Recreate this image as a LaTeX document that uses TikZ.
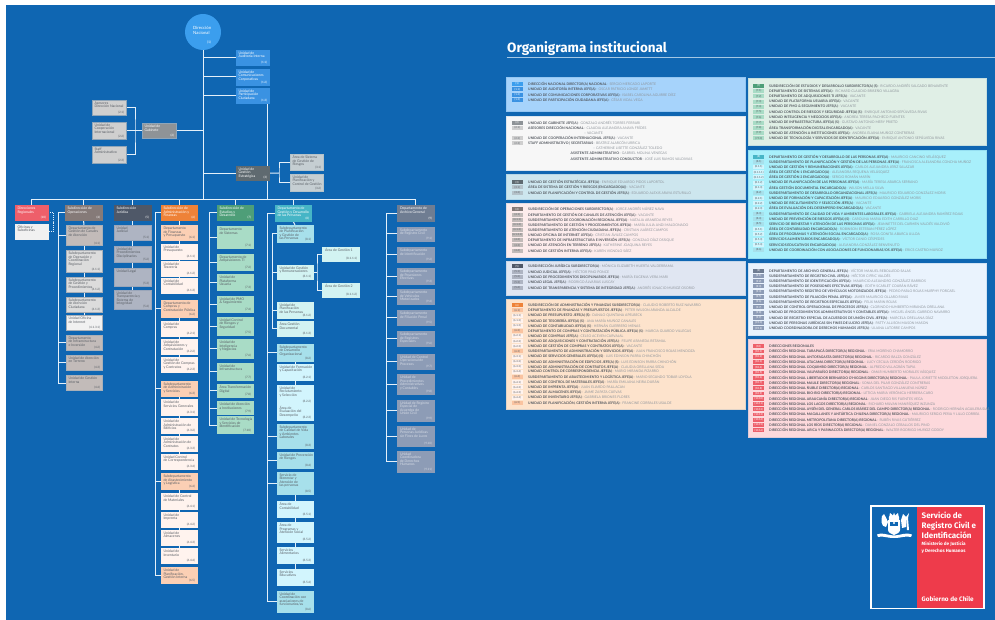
\documentclass[tikz,border=0pt]{standalone}
\usepackage{fontspec}
\setmainfont{Lato}
\newfontfamily\titlefont{Fira Sans}
\usetikzlibrary{calc}
\pgfdeclarelayer{bg}
\pgfsetlayers{bg,main}
\definecolor{bgblue}{HTML}{0F66B2}
\definecolor{linew}{HTML}{E4F0FA}
\definecolor{txtd}{HTML}{5A5F66}
\definecolor{rowb}{HTML}{52575E}
\definecolor{rown}{HTML}{8E949B}
\definecolor{cRed}{HTML}{EE3B4B}
\definecolor{P1col}{HTML}{A6D3FB}
\definecolor{P2col}{HTML}{F7F7F7}
\definecolor{P3col}{HTML}{CDE6EE}
\definecolor{P4col}{HTML}{FDECEC}
\definecolor{P5col}{HTML}{E0E6F2}
\definecolor{P6col}{HTML}{FDE3CC}
\definecolor{P7col}{HTML}{E0EFE6}
\definecolor{P8col}{HTML}{A8F0FB}
\definecolor{P9col}{HTML}{EAF3FD}
\definecolor{P10col}{HTML}{FDD9DC}
\newcounter{rc}
\tikzset{
 conn/.style={draw=linew,line width=1pt},
 ubox/.style={rectangle,outer sep=0pt,inner xsep=2.5pt,inner ysep=1.5pt,line width=.6pt,font=\fontsize{3.5}{3.5}\selectfont,align=left},
 ucode/.style={fill=none,draw=none,inner xsep=2pt,inner ysep=1.2pt,font=\fontsize{3}{3}\selectfont},
 uwhite/.style={ubox,text=white},
 sNac/.style={ubox,fill=c1,draw=c1,text=white},
 sUni/.style={ubox,fill=c1b,draw=c1b,text=white},
 sGab/.style={ubox,fill=c2,draw=c2d,text=white},
 sAse/.style={ubox,fill=c2b,draw=c2d,text=txtd},
 sGes/.style={ubox,fill=c3,draw=c3,text=white},
 sAre/.style={ubox,fill=c3b,draw=c3d,text=txtd},
 sDir/.style={ubox,fill=c10,draw=c10,text=white},
 sOfi/.style={ubox,fill=cOf,draw=cOf,text=rowb},
 sOp/.style={ubox,fill=c4,draw=c4,text=white},
 sOpa/.style={ubox,fill=c4b,draw=c4c,text=txtd},
 sOpb/.style={ubox,fill=c4l,draw=c4c,text=txtd},
 sOpc/.style={ubox,fill=cOf,draw=c4c,text=txtd},
 sJu/.style={ubox,fill=c5,draw=c5,text=white},
 sJua/.style={ubox,fill=c5b,draw=c5c,text=txtd},
 sAd/.style={ubox,fill=c6,draw=c6,text=white},
 sAda/.style={ubox,fill=c6b,draw=c6b,text=txtd},
 sAdb/.style={ubox,fill=c6l,draw=c6l,text=txtd},
 sEs/.style={ubox,fill=c7,draw=c7,text=white},
 sEsa/.style={ubox,fill=c7b,draw=c7b,text=txtd},
 sPe/.style={ubox,fill=c8,draw=c8,text=white},
 sPea/.style={ubox,fill=c8b,draw=c8b,text=txtd},
 sPeb/.style={ubox,fill=c8l,draw=c8l,text=txtd},
 sPec/.style={ubox,fill=c8m,draw=c8m,text=txtd},
 sAr/.style={ubox,fill=c9,draw=c9,text=white},
 sAra/.style={ubox,fill=c9b,draw=c9b,text=c9t},
 panel/.style={rectangle,outer sep=0pt,inner sep=0pt,line width=.6pt,anchor=north west},
 rowt/.style={anchor=west,inner sep=0pt,font=\fontsize{3.45}{3.7}\selectfont},
 cell/.style={inner sep=0pt,minimum width=11pt,minimum height=3.9pt,font=\fontsize{2.7}{3}\selectfont,anchor=west},
 k1a/.style={cell,fill=c1,text=white},k1/.style={cell,fill=c1b,text=white},
 k2a/.style={cell,fill=c2,text=white},k2/.style={cell,fill=c2b,text=txtd},
 k3a/.style={cell,fill=c3,text=white},k3/.style={cell,fill=c3d,text=txtd},
 k4a/.style={cell,fill=c4,text=white},k4/.style={cell,fill=c4b,text=txtd},
 k5a/.style={cell,fill=c5,text=white},k5/.style={cell,fill=c5b,text=txtd},
 k6a/.style={cell,fill=c6,text=white},k6b/.style={cell,fill=c6c,text=txtd},k6/.style={cell,fill=c6l,text=txtd},
 k7a/.style={cell,fill=c7,text=white},k7/.style={cell,fill=c7b,text=txtd},
 k8a/.style={cell,fill=c8,text=white},k8b/.style={cell,fill=c8b,text=txtd},k8/.style={cell,fill=c8m,text=txtd},
 k9a/.style={cell,fill=c9,text=white},k9/.style={cell,fill=c9b,text=white},
 k10/.style={cell,fill=c10,text=white},
}
\definecolor{c1}{HTML}{3B9EEE}\definecolor{c1b}{HTML}{3A92E2}
\definecolor{c2}{HTML}{8E9397}\definecolor{c2b}{HTML}{CFCFCF}\definecolor{c2d}{HTML}{8FA5B8}
\definecolor{c3}{HTML}{5F6A70}\definecolor{c3b}{HTML}{C5CED2}\definecolor{c3d}{HTML}{B5C3CA}
\definecolor{c4}{HTML}{857A78}\definecolor{c4b}{HTML}{C2BBB9}\definecolor{c4l}{HTML}{DCDCDC}\definecolor{c4c}{HTML}{A9B0B8}
\definecolor{c5}{HTML}{4F5868}\definecolor{c5b}{HTML}{AEB4C2}\definecolor{c5c}{HTML}{9AA6BA}
\definecolor{c6}{HTML}{EE8238}\definecolor{c6b}{HTML}{FBCFB4}\definecolor{c6c}{HTML}{FAC3A0}\definecolor{c6l}{HTML}{FFF3EE}
\definecolor{c7}{HTML}{4E9E78}\definecolor{c7b}{HTML}{A9DCC6}
\definecolor{c8}{HTML}{46B5C6}\definecolor{c8b}{HTML}{A7E0EB}\definecolor{c8l}{HTML}{D2F3F2}\definecolor{c8m}{HTML}{D2F5FD}
\definecolor{c9}{HTML}{6F7D92}\definecolor{c9b}{HTML}{8D9CB6}\definecolor{c9t}{HTML}{D5DBE5}
\definecolor{c10}{HTML}{EE5F6A}\definecolor{cOf}{HTML}{F1F1F1}
\newcommand{\ub}[8]{%
 \pgfmathsetmacro\bw{#5-#3-5}\pgfmathsetmacro\bh{#6-#4-3}%
 \node[#2,anchor=north west] (#1) at (#3,#4) {\parbox[c][\bh pt][t]{\bw pt}{\leavevmode\rlap{\parbox[t]{60pt}{\raggedright #7}}}};%
 \node[#2,ucode,anchor=south east] (#1c) at (#1.south east) {#8};%
}
\newcommand{\rwL}[5]{\stepcounter{rc}\node[#1] (kc\therc) at (511.5,#2) {#3};\node[rowt] (kt\therc) at (528,#2) {\textcolor{rowb}{\bfseries #4}\textcolor{rown}{ – #5}};}
\newcommand{\rwR}[5]{\stepcounter{rc}\node[#1] (kc\therc) at (753,#2) {#3};\node[rowt] (kt\therc) at (769,#2) {\textcolor{rowb}{\bfseries #4}\textcolor{rown}{ – #5}};}
\newcommand{\rwX}[4]{\stepcounter{rc}\node[rowt] (kt\therc) at (#1,#2) {\textcolor{rowb}{\bfseries #3}\textcolor{rown}{ – #4}};}
\newcommand{\pnl}[6]{\pgfmathsetmacro\bw{#4-#2}\pgfmathsetmacro\bh{#5-#3}\node[panel,fill=#6,draw=#6!88!bgblue,minimum width=\bw pt,minimum height=\bh pt] (#1) at (#2,#3) {};}
\begin{document}
\begin{tikzpicture}[x=1pt,y=-1pt]
\useasboundingbox (0,0) rectangle (995,620);
\begin{pgfonlayer}{bg}
\fill[white] (0,0) rectangle (995,620);
\fill[bgblue] (6,5) rectangle (995,620);
\end{pgfonlayer}
% ---------- top
\node[circle,fill=c1,minimum size=36pt,inner sep=0pt] (dn) at (203,32) {};
\node[anchor=north west,inner sep=0pt,text=white,font=\fontsize{4.3}{4.4}\selectfont,align=left] (dnt) at (193,26.5) {Dirección\\Nacional};
\node[anchor=base,inner sep=0pt,text=white,font=\fontsize{3.4}{4}\selectfont] (dnc) at (209,44) {(1)};
\ub{au}{sUni}{236}{50}{269}{65.5}{Unidad de\\Auditoría Interna}{(1.1)}
\ub{cm}{sUni}{236}{69}{269}{85}{Unidad de\\Comunicaciones\\Corporativas}{(1.2)}
\ub{pa}{sUni}{236}{88}{269}{103.5}{Unidad de\\Participación\\Ciudadana}{(1.3)}
\ub{gab}{sGab}{142}{123.5}{176}{138}{Unidad de\\Gabinete}{(2)}
\ub{as}{sAse}{92}{100}{126}{115}{Asesores\\Dirección Nacional}{(2.1)}
\ub{co}{sAse}{92}{122}{126}{139.5}{Unidad de\\Cooperación\\Internacional}{(2.2)}
\ub{st}{sAse}{92}{146}{126}{163}{Staff\\Administrativo}{(2.3)}
\ub{ge}{sGes}{236}{166}{269}{180.5}{Unidad de\\Gestión\\Estratégica}{(3)}
\ub{ar1}{sAre}{290}{154}{323}{170.5}{Área de Sistema\\de Gestión de\\Riesgos}{(3.1)}
\ub{ar2}{sAre}{290}{174}{323}{191.5}{Unidad de\\Planificación y\\Control de Gestión}{(3.2)}
% ---------- column regional
\ub{dr}{sDir}{15}{205.5}{48}{220}{Direcciones\\Regionales}{(10)}
\ub{of}{sOfi}{15}{224}{48}{239}{Oficinas y\\Suboficinas}{}
% ---------- operaciones
\ub{so}{sOp}{65}{205.5}{102}{220}{Subdirección de\\Operaciones}{(4)}
\ub{dg}{sOpa}{66}{225}{102}{245.7}{Departamento de\\Gestión de Canales\\de Atención}{(4.1)}
\ub{s1}{sOpb}{66}{250.5}{102}{272.5}{Subdepartamento\\de Operación y\\Coordinación\\Regional}{(4.1.1)}
\ub{s2}{sOpb}{66}{277}{102}{292}{Subdepartamento\\de Gestión y\\Procedimientos}{(4.1.2)}
\ub{s3}{sOpb}{66}{297}{102}{312}{Subdepartamento\\de Atención\\Ciudadana}{(4.1.3)}
\ub{ofi}{sOpc}{66}{315.5}{102}{330.5}{Unidad Oficina\\de Internet}{(4.1.3.1)}
\ub{inf}{sOpa}{66}{335}{102}{350}{Departamento\\de Infraestructura\\e Inversión}{(4.2)}
\ub{ter}{sOpa}{66}{355}{102}{370.5}{Unidad de Atención\\en Terreno}{(4.3)}
\ub{gi}{sOpa}{66}{375.5}{102}{390.5}{Unidad de Gestión\\Interna}{(4.4)}
% ---------- juridica
\ub{sj}{sJu}{114}{205.5}{151}{220}{Subdirección\\Jurídica}{(5)}
\ub{j1}{sJua}{114}{225}{151}{240}{Unidad\\Judicial}{(5.1)}
\ub{j2}{sJua}{114}{246}{151}{262}{Unidad de\\Procedimientos\\Disciplinarios}{(5.2)}
\ub{j3}{sJua}{114}{268}{151}{286}{Unidad Legal}{(5.3)}
\ub{j4}{sJua}{114}{290}{151}{309}{Unidad de\\Transparencia y\\Sistema de\\Integridad}{(5.4)}
% ---------- administracion
\ub{sa}{sAd}{161}{205.5}{197}{220}{Subdirección de\\Administración y\\Finanzas}{(6)}
\ub{a1}{sAda}{161}{225.5}{197}{240.5}{Departamento\\de Finanzas\\y Presupuesto}{(6.1)}
\ub{a11}{sAdb}{161}{244}{197}{259}{Unidad de\\Presupuesto}{(6.1.1)}
\ub{a12}{sAdb}{161}{261}{197}{276}{Unidad de\\Tesorería}{(6.1.2)}
\ub{a13}{sAdb}{161}{278}{197}{293}{Unidad de\\Contabilidad}{(6.1.3)}
\ub{a2}{sAda}{161}{300}{197}{317}{Departamento de\\Compras y\\Contratación Pública}{(6.2)}
\ub{a21}{sAdb}{161}{321}{197}{336}{Unidad de\\Compras}{(6.2.1)}
\ub{a22}{sAdb}{161}{339}{197}{354}{Unidad de\\Adquisiciones y\\Contratación}{(6.2.2)}
\ub{a23}{sAdb}{161}{357}{197}{372.5}{Unidad de\\Gestión de Compras\\y Contratos}{(6.2.3)}
\ub{a3}{sAda}{161}{381}{197}{396}{Subdepartamento\\de Administración\\y Servicios}{(6.3)}
\ub{a31}{sAdb}{161}{399.5}{197}{415}{Unidad de\\Servicios Generales}{(6.3.1)}
\ub{a32}{sAdb}{161}{418.5}{197}{433.5}{Unidad de\\Administración de\\Edificios}{(6.3.2)}
\ub{a33}{sAdb}{161}{436}{197}{451}{Unidad de\\Administración de\\Contratos}{(6.3.3)}
\ub{a34}{sAdb}{161}{454}{197}{469}{Unidad Control\\de Correspondencia}{(6.3.4)}
\ub{a4}{sAda}{161}{473.5}{197}{489}{Subdepartamento\\de Abastecimiento\\y Logística}{(6.4)}
\ub{a41}{sAdb}{161}{493.5}{197}{509}{Unidad de Control\\de Materiales}{(6.4.1)}
\ub{a42}{sAdb}{161}{512}{197}{527}{Unidad de\\Imprenta}{(6.4.2)}
\ub{a43}{sAdb}{161}{530}{197}{545}{Unidad de\\Almacenes}{(6.4.3)}
\ub{a44}{sAdb}{161}{548.5}{197}{563.5}{Unidad de\\Inventario}{(6.4.4)}
\ub{a5}{sAda}{161}{567.5}{197}{583}{Unidad de\\Planificación,\\Gestión Interna}{(6.5)}
% ---------- estudios
\ub{se}{sEs}{217}{205.5}{253}{220}{Subdirección de\\Estudios y\\Desarrollo}{(7)}
\ub{e1}{sEsa}{217}{226.5}{253}{248}{Departamento\\de Sistemas}{(7.1)}
\ub{e2}{sEsa}{217}{254}{253}{270}{Departamento de\\Adquisiciones TI}{(7.2)}
\ub{e3}{sEsa}{217}{274.5}{253}{290}{Unidad de\\Plataforma\\Usuaria}{(7.3)}
\ub{e4}{sEsa}{217}{296}{253}{312}{Unidad de PMO\\\& Seguimiento}{(7.4)}
\ub{e5}{sEsa}{217}{317}{253}{335}{Unidad Control\\de Riesgos y\\Seguridad}{(7.5)}
\ub{e6}{sEsa}{217}{339.5}{253}{358}{Unidad de\\Inteligencia\\y Negocios}{(7.6)}
\ub{e7}{sEsa}{217}{363}{253}{380}{Unidad de\\Infraestructura}{(7.7)}
\ub{e8}{sEsa}{217}{384}{253}{397}{Área Transformación\\Digital}{(7.8)}
\ub{e9}{sEsa}{217}{401.5}{253}{414.5}{Unidad de Atención\\a Instituciones}{(7.9)}
\ub{e10}{sEsa}{217}{416.7}{253}{433.3}{Unidad de Tecnología\\y Servicios de\\Identificación}{(7.10)}
% ---------- personas
\ub{sp}{sPe}{275}{205.5}{311}{221}{Departamento de\\Gestión y Desarrollo\\de las Personas}{(8)}
\ub{p1}{sPea}{277}{225}{313}{242.5}{Subdepartamento\\de Planificación\\y Gestión de\\las Personas}{(8.1)}
\ub{p11}{sPeb}{277}{265}{313}{279}{Unidad de Gestión\\y Remuneraciones}{(8.1.1)}
\ub{p12}{sPeb}{277}{302}{313}{318}{Unidad de\\Planificación\\de las Personas}{(8.1.2)}
\ub{p13}{sPeb}{277}{321}{313}{336}{Área Gestión\\Documental}{(8.1.3)}
\ub{g1}{sPeb}{322.5}{247}{359}{261.5}{Área de Gestión 1}{(8.1.1.1)}
\ub{g2}{sPeb}{322.5}{283}{359}{297}{Área de Gestión 2}{(8.1.1.2)}
\ub{p2}{sPea}{277}{344}{313}{361}{Subdepartamento\\de Desarrollo\\Organizacional}{(8.2)}
\ub{p21}{sPec}{277}{364}{313}{380}{Unidad de Formación\\y Capacitación}{(8.2.1)}
\ub{p22}{sPec}{277}{385}{313}{404}{Unidad de\\Reclutamiento\\y Selección}{(8.2.2)}
\ub{p23}{sPec}{277}{404.5}{313}{420}{Área de\\Evaluación del\\Desempeño}{(8.2.3)}
\ub{p3}{sPea}{277}{424}{313}{448}{Subdepartamento\\de Calidad de Vida\\y Ambientes\\Laborales}{(8.3)}
\ub{p4}{sPea}{277}{452}{313}{468.5}{Unidad de Prevención\\de Riesgos}{(8.4)}
\ub{p5}{sPea}{277}{472}{313}{494.5}{Servicio de\\Bienestar y\\Atención de\\las personas}{(8.5)}
\ub{p51}{sPec}{277}{501}{313}{517}{Área de\\Contabilidad}{(8.5.1)}
\ub{p52}{sPec}{277}{522}{313}{542}{Área de\\Programas y\\Atención Social}{(8.5.2)}
\ub{p53}{sPec}{277}{547}{313}{563}{Servicios\\Alimentarios}{(8.5.3)}
\ub{p54}{sPec}{277}{569}{313}{585}{Servicios\\Educativos}{(8.5.4)}
\ub{p6}{sPea}{277}{591}{313}{612.5}{Unidad de\\Coordinación con\\asociaciones de\\funcionarios/as}{(8.6)}
% ---------- archivo
\ub{ra}{sAr}{397.5}{205.5}{434}{221}{Departamento de\\Archivo General}{(9)}
\ub{r1}{sAra}{397.5}{227}{434}{241}{Subdepartamento\\de Registro Civil}{(9.1)}
\ub{r2}{sAra}{397.5}{247.5}{434}{262}{Subdepartamento\\de Identificación}{(9.2)}
\ub{r3}{sAra}{397.5}{268.5}{434}{284}{Subdepartamento\\de Posesiones\\Efectivas}{(9.3)}
\ub{r4}{sAra}{397.5}{289.5}{434}{304}{Subdepartamento\\de Vehículos\\Motorizados}{(9.4)}
\ub{r5}{sAra}{397.5}{310.5}{434}{325}{Subdepartamento\\de Filiación Penal}{(9.5)}
\ub{r6}{sAra}{397.5}{331.5}{434}{346}{Subdepartamento\\de Registros\\Especiales}{(9.6)}
\ub{r7}{sAra}{397.5}{354}{434}{369}{Unidad de Control\\Operacional de\\Procesos}{(9.7)}
\ub{r8}{sAra}{397.5}{374.5}{434}{394}{Unidad de\\Procedimientos\\Administrativos\\y Contables}{(9.8)}
\ub{r9}{sAra}{397.5}{400}{434}{421}{Unidad de Registro\\Especial de\\Acuerdos de\\Unión Civil}{(9.9)}
\ub{r10}{sAra}{397.5}{426}{434}{446.5}{Unidad de\\Personas Jurídicas\\sin Fines de Lucro}{(9.10)}
\ub{r11}{sAra}{397.5}{451}{434}{472.5}{Unidad\\Coordinadora\\de Derechos\\Humanos}{(9.11)}
% ---------- title
\node[anchor=base west,inner sep=0pt,text=white,font=\titlefont\bfseries\fontsize{13.5}{14}\selectfont] (title) at (507,52.5) {Organigrama institucional};
\coordinate (ruleA) at (507,57.5);
\coordinate (ruleB) at (995,57.5);
\draw[draw=linew!70!bgblue,line width=.5pt] (ruleA) -- (ruleB);
% ---------- panels
\pnl{P1}{506}{77.5}{745}{111.7}{P1col}
\pnl{P2}{506}{116}{745}{170}{P2col}
\pnl{P3}{506}{174.7}{745}{199}{P3col}
\pnl{P4}{506}{203}{745}{257}{P4col}
\pnl{P5}{506}{261.5}{745}{295.5}{P5col}
\pnl{P6}{506}{299.3}{745}{409.3}{P6col}
\pnl{P7}{748}{78.3}{986}{145.7}{P7col}
\pnl{P8}{748}{150}{986}{258}{P8col}
\pnl{P9}{748}{263.3}{986}{335}{P9col}
\pnl{P10}{748}{339.7}{986}{437.3}{P10col}
\rwL{k1a}{84}{(1)}{DIRECCIÓN NACIONAL DIRECTOR(A) NACIONAL}{SERGIO MERCADO LAPORTE}
\rwL{k1}{89.3}{(1.1)}{UNIDAD DE AUDITORÍA INTERNA JEFE(A)}{OSCAR PATRICIO LONGE JAMETT}
\rwL{k1}{94.7}{(1.2)}{UNIDAD DE COMUNICACIONES CORPORATIVAS JEFE(A)}{ISABEL CAROLINA AGUIRRE DÍEZ}
\rwL{k1}{100}{(1.3)}{UNIDAD DE PARTICIPACIÓN CIUDADANA JEFE(A)}{CÉSAR VIDAL VEGA}
\rwL{k2a}{122.7}{(2)}{UNIDAD DE GABINETE JEFE(A)}{GONZALO ANDRÉS TORRES FERRARI}
\rwL{k2}{128}{(2.1)}{ASESORES DIRECCIÓN NACIONAL}{CLAUDIA ALEJANDRA ANAYA FRÍDES}
\node[rowt,text=rown] (vac) at (584,133.3) {– VACANTE};
\rwL{k2}{138.3}{(2.2)}{UNIDAD DE COOPERACIÓN INTERNACIONAL JEFE(A)}{VACANTE}
\rwL{k2}{143.3}{(2.3)}{STAFF ADMINISTRATIVO | SECRETARIAS}{BEATRIZ ALARCÓN URRICA}
\node[rowt,text=rown] (cat) at (593,148.3) {– CATHERINE LISETTE GONZÁLEZ TOLEDO};
\rwX{570.5}{153.3}{ASISTENTE ADMINISTRATIVO}{GABRIEL MOLINA VENEGAS}
\rwX{570.5}{158.7}{ASISTENTE ADMINISTRATIVO CONDUCTOR}{JOSÉ LUIS RAMOS VALDIVIAS}
\rwL{k3a}{182.3}{(3)}{UNIDAD DE GESTIÓN ESTRATÉGICA JEFE(A)}{ENRIQUE EDUARDO PIDOS LAPORTOL}
\rwL{k3}{187.3}{(3.1)}{ÁREA DE SISTEMA DE GESTIÓN Y RIESGOS (ENCARGADO(A))}{VACANTE}
\rwL{k3}{192.7}{(3.2)}{UNIDAD DE PLANIFICACIÓN Y CONTROL DE GESTIÓN JEFE(A)}{EDUARDO ALEXIS ARAYA ESTURILLO}
\rwL{k4a}{209.3}{(4)}{SUBDIRECCIÓN DE OPERACIONES SUBDIRECTOR(A)}{JORGE ANDRÉS NÚÑEZ NAVA}
\rwL{k4}{214.7}{(4.1)}{DEPARTAMENTO DE GESTIÓN DE CANALES DE ATENCIÓN JEFE(A)}{VACANTE}
\rwL{k4}{219.7}{(4.1.1)}{SUBDEPARTAMENTO DE COORDINACIÓN REGIONAL JEFE(A)}{NATALIA ARANEDA REYES}
\rwL{k4}{224.7}{(4.1.2)}{SUBDEPARTAMENTO DE GESTIÓN Y PROCEDIMIENTOS JEFE(A)}{MARÍA JULIA ANDI MALDONADO}
\rwL{k4}{229.7}{(4.1.3)}{SUBDEPARTAMENTO DE ATENCIÓN CIUDADANA JEFE(A)}{CRISTIAN JUÁREZ CAMPOS}
\rwL{k4}{235}{(4.1.3.1)}{UNIDAD OFICINA DE INTERNET JEFE(A)}{CRISTIAN ÁVILEZ CAMPOS}
\rwL{k4}{240}{(4.2)}{DEPARTAMENTO DE INFRAESTRUCTURA E INVERSIÓN JEFE(A)}{GONZALO DÍAZ OSSIQUE}
\rwL{k4}{245.3}{(4.3)}{UNIDAD DE ATENCIÓN EN TERRENO JEFE(A)}{KATHERINE JOAQUINA REYES}
\rwL{k4}{251}{(4.4)}{UNIDAD DE GESTIÓN INTERNA JEFE(A)}{KAREN VIGNOLO SÁEZ}
\rwL{k5a}{266.3}{(5)}{SUBDIRECCIÓN JURÍDICA SUBDIRECTOR(A)}{MÓNICA ELIZABETH HUERTA VALDERRAMA}
\rwL{k5}{271.7}{(5.1)}{UNIDAD JUDICIAL JEFE(A)}{HÉCTOR PINO PONCE}
\rwL{k5}{277}{(5.2)}{UNIDAD DE PROCEDIMIENTOS DISCIPLINARIOS JEFE(A)}{MARÍA EUGENIA VERA MARI}
\rwL{k5}{282.3}{(5.3)}{UNIDAD LEGAL JEFE(A)}{RODRIGO ÁLVARIAS LUSCAY}
\rwL{k5}{287.7}{(5.4)}{UNIDAD DE TRANSPARENCIA Y SISTEMA DE INTEGRIDAD JEFE(A)}{ANDRÉS IGNACIO MUÑOZ OSORIO}
\rwL{k6a}{305.3}{(6)}{SUBDIRECCIÓN DE ADMINISTRACIÓN Y FINANZAS SUBDIRECTOR(A)}{CLAUDIO ROBERTO RUIZ NAVARRO}
\rwL{k6b}{310.4}{(6.1)}{DEPARTAMENTO DE FINANZAS Y PRESUPUESTOS JEFE(A)}{PETER WILSON ARANDA ALCALDE}
\rwL{k6}{315.6}{(6.1.1)}{UNIDAD DE PRESUPUESTO JEFE(A) (S)}{DANILO QUINTANA APELBECK}
\rwL{k6}{320.7}{(6.1.2)}{UNIDAD DE TESORERÍA JEFE(A) (S)}{ANA MARÍA MUÑOZ CANALES}
\rwL{k6}{325.8}{(6.1.3)}{UNIDAD DE CONTABILIDAD JEFE(A) (S)}{HERNÁN GUERRERO MENAS}
\rwL{k6b}{330.9}{(6.2)}{DEPARTAMENTO DE COMPRAS Y CONTRATACIÓN PÚBLICA JEFE(A) (S)}{MARCIA GUARDO VILLEGAS}
\rwL{k6}{336.1}{(6.2.1)}{UNIDAD DE COMPRAS JEFE(A)}{CELSO ACEVEN CARVAJAL}
\rwL{k6}{341.2}{(6.2.2)}{UNIDAD DE ADQUISICIONES Y CONTRATACIÓN JEFE(A)}{FELIPE ARANEDA RETAMAL}
\rwL{k6}{346.3}{(6.2.3)}{UNIDAD DE GESTIÓN DE COMPRAS Y CONTRATOS JEFE(A)}{VACANTE}
\rwL{k6b}{351.4}{(6.3)}{SUBDEPARTAMENTO DE ADMINISTRACIÓN Y SERVICIOS JEFE(A)}{JUAN FRANCISCO ROJAS MENDOZA}
\rwL{k6}{356.6}{(6.3.1)}{UNIDAD DE SERVICIOS GENERALES JEFE(A) (S)}{LUIS EDINSON PARRA CHINCHÓN}
\rwL{k6}{361.7}{(6.3.2)}{UNIDAD DE ADMINISTRACIÓN DE EDIFICIOS JEFE(A) (S)}{LUIS EDINSON PARRA CHINCHÓN}
\rwL{k6}{366.8}{(6.3.3)}{UNIDAD DE ADMINISTRACIÓN DE CONTRATOS JEFE(A)}{CLAUDIA ORELLANA SEDA}
\rwL{k6}{371.9}{(6.3.4)}{UNIDAD CONTROL DE CORRESPONDENCIA JEFE(A)}{MARIO MIRANDA PIZARRO}
\rwL{k6b}{377.1}{(6.4)}{SUBDEPARTAMENTO DE ABASTECIMIENTO Y LOGÍSTICA JEFE(A)}{MARIO SEGUNDO TOBAR LOYOLA}
\rwL{k6}{382.2}{(6.4.1)}{UNIDAD DE CONTROL DE MATERIALES JEFE(A)}{MARÍA EMILIANA NEIRA DURÁN}
\rwL{k6}{387.3}{(6.4.2)}{UNIDAD DE IMPRENTA JEFE(A)}{JUAN ELIARDO PAILLACAN}
\rwL{k6}{392.4}{(6.4.3)}{UNIDAD DE ALMACENES JEFE(A)}{JAIME ZAPATA CUEVAS}
\rwL{k6}{397.6}{(6.4.4)}{UNIDAD DE INVENTARIO JEFE(A)}{GABRIELA BRIONES FLORES}
\rwL{k6b}{402.7}{(6.5)}{UNIDAD DE PLANIFICACIÓN, GESTIÓN INTERNA JEFE(A)}{FRANCINE CORRALES USALDE}
\rwR{k7a}{85.7}{(7)}{SUBDIRECCIÓN DE ESTUDIOS Y DESARROLLO SUBDIRECTOR(A) (S)}{RICARDO ANDRÉS SALGADO BENAVENTE}
\rwR{k7}{91}{(7.1)}{DEPARTAMENTO DE SISTEMAS JEFE(A)}{RICHARD CLAUDIO BRISEÑO VILLAGRA}
\rwR{k7}{96.3}{(7.2)}{DEPARTAMENTO DE ADQUISICIONES TI JEFE(A)}{VACANTE}
\rwR{k7}{101.6}{(7.3)}{UNIDAD DE PLATAFORMA USUARIA JEFE(A)}{VACANTE}
\rwR{k7}{106.8}{(7.4)}{UNIDAD DE PMO \& SEGUIMIENTO JEFE(A)}{VACANTE}
\rwR{k7}{112}{(7.5)}{UNIDAD CONTROL DE RIESGOS Y SEGURIDAD JEFE(A) (S)}{ENRIQUE ANTONIO SEPÚLVEDA RIVAS}
\rwR{k7}{117.3}{(7.6)}{UNIDAD INTELIGENCIA Y NEGOCIOS JEFE(A)}{ANDREA TERESA PACHECO FUENTES}
\rwR{k7}{122.6}{(7.7)}{UNIDAD DE INFRAESTRUCTURA JEFE(A) (S)}{GUSTAVO ANTONIO MERY PRIETO}
\rwR{k7}{127.8}{(7.8)}{ÁREA TRANSFORMACIÓN DIGITAL ENCARGADO(A)}{VACANTE}
\rwR{k7}{133}{(7.9)}{UNIDAD DE ATENCIÓN A INSTITUCIONES JEFE(A)}{ANDREA ELIANA MUÑOZ CONTRERAS}
\rwR{k7}{138.3}{(7.10)}{UNIDAD DE TECNOLOGÍA Y SERVICIOS DE IDENTIFICACIÓN JEFE(A)}{ENRIQUE ANTONIO SEPÚLVEDA RIVAS}
\rwR{k8a}{156.7}{(8)}{DEPARTAMENTO DE GESTIÓN Y DESARROLLO DE LAS PERSONAS JEFE(A)}{MAURICIO CANCINO VELÁSQUEZ}
\rwR{k8b}{161.9}{(8.1)}{SUBDEPARTAMENTO DE PLANIFICACIÓN Y GESTIÓN DE LAS PERSONAS JEFE(A)}{FRANCISCA ALEJANDRA CONCHA MUÑOZ}
\rwR{k8}{167.1}{(8.1.1)}{UNIDAD DE GESTIÓN Y REMUNERACIONES JEFE(A)}{CARLOS ALEJANDRA JERIZ SALAZAR}
\rwR{k8}{172.3}{(8.1.1.1)}{ÁREA DE GESTIÓN 1 ENCARGADO(A)}{ALEJANDRA REQUENA VELÁSQUEZ}
\rwR{k8}{177.4}{(8.1.1.2)}{ÁREA DE GESTIÓN 2 ENCARGADO(A)}{SERGIO ROMÁN MARÍN}
\rwR{k8}{182.6}{(8.1.2)}{UNIDAD DE PLANIFICACIÓN DE LAS PERSONAS JEFE(A)}{MARÍA TERESA ABARCA SERRANO}
\rwR{k8}{187.8}{(8.1.3)}{ÁREA GESTIÓN DOCUMENTAL ENCARGADO(A)}{WILSON MELLA SILVA}
\rwR{k8b}{193}{(8.2)}{SUBDEPARTAMENTO DE DESARROLLO ORGANIZACIONAL JEFE(A)}{MAURICIO EDUARDO GONZÁLEZ MORIS}
\rwR{k8}{198.2}{(8.2.1)}{UNIDAD DE FORMACIÓN Y CAPACITACIÓN JEFE(A)}{MAURICIO EDUARDO GONZÁLEZ MORIS}
\rwR{k8}{203.3}{(8.2.2)}{UNIDAD DE RECLUTAMIENTO Y SELECCIÓN JEFE(A)}{VACANTE}
\rwR{k8}{208.5}{(8.2.3)}{ÁREA DE EVALUACIÓN DEL DESEMPEÑO ENCARGADO(A)}{VACANTE}
\rwR{k8b}{213.7}{(8.3)}{SUBDEPARTAMENTO DE CALIDAD DE VIDA Y AMBIENTES LABORALES JEFE(A)}{GABRIELA ALEJANDRA RAMÍREZ ROJAS}
\rwR{k8b}{218.9}{(8.4)}{UNIDAD DE PREVENCIÓN DE RIESGOS JEFE(A) (S)}{CAROLINA MARIA EDITH CARRILLO DIAZ}
\rwR{k8b}{224}{(8.5)}{SERVICIO DE BIENESTAR Y ATENCIÓN DE LAS PERSONAS JEFE(A)}{JEANNETTE DEL CARMEN VALDÉS VALDIVIÓ}
\rwR{k8}{229.2}{(8.5.1)}{ÁREA DE CONTABILIDAD ENCARGADO(A)}{ROBINSON ESTEBAN PÉREZ LÓPEZ}
\rwR{k8}{234.4}{(8.5.2)}{ÁREA DE PROGRAMAS Y ATENCIÓN SOCIAL ENCARGADO(A)}{ROSA GONITA ABARCA ULLOA}
\rwR{k8}{239.6}{(8.5.3)}{SERVICIOS ALIMENTARIOS ENCARGADO(A)}{VÍCTOR CANIO CÉSPEDES}
\rwR{k8}{244.8}{(8.5.4)}{SERVICIOS EDUCATIVOS ENCARGADO(A)}{ALEJANDRA GONZÁLEZ BENVENUTO}
\rwR{k8b}{250}{(8.6)}{UNIDAD DE COORDINACIÓN CON ASOCIACIONES DE FUNCIONARIAS/OS JEFE(A)}{ERICS CASTRO MUÑOZ}
\rwR{k9a}{270.7}{(9)}{DEPARTAMENTO DE ARCHIVO GENERAL JEFE(A)}{VÍCTOR MANUEL REBOLLEDO SALAS}
\rwR{k9}{275.9}{(9.1)}{SUBDEPARTAMENTO DE REGISTRO CIVIL JEFE(A)}{HÉCTOR CIFRIC VALDÉS}
\rwR{k9}{281.2}{(9.2)}{SUBDEPARTAMENTO DE IDENTIFICACIÓN JEFE(A)}{MAURICIO ALEJANDRO GONZÁLEZ BARRIOS}
\rwR{k9}{286.4}{(9.3)}{SUBDEPARTAMENTO DE POSESIONES EFECTIVAS JEFE(A)}{EDITH SCARLET COURÁN RÁVEZ}
\rwR{k9}{291.6}{(9.4)}{SUBDEPARTAMENTO REGISTRO DE VEHÍCULOS MOTORIZADOS JEFE(A)}{PEDRO PABLO ROJAS MURPHY FORCAEL}
\rwR{k9}{296.9}{(9.5)}{SUBDEPARTAMENTO DE FILIACIÓN PENAL JEFE(A)}{JAVIER MAURICIO OLLARO RIVAS}
\rwR{k9}{302.1}{(9.6)}{SUBDEPARTAMENTO DE REGISTROS ESPECIALES JEFE(A)}{FELIX MARIN ROJAS}
\rwR{k9}{307.3}{(9.7)}{UNIDAD DE CONTROL OPERACIONAL DE PROCESOS JEFE(A)}{CLORINDO HUMBERTO MIRANDA ORELLANA}
\rwR{k9}{312.6}{(9.8)}{UNIDAD DE PROCEDIMIENTOS ADMINISTRATIVOS Y CONTABLES JEFE(A)}{MIGUEL ÁNGEL GARRIDO NAVARRO}
\rwR{k9}{317.8}{(9.9)}{UNIDAD DE REGISTRO ESPECIAL DE ACUERDOS DE UNIÓN CIVIL JEFE(A)}{MARCELA ORELLANA DÍAZ}
\rwR{k9}{323}{(9.10)}{UNIDAD DE PERSONAS JURÍDICAS SIN FINES DE LUCRO JEFE(A)}{PATTY ALLISON MASON MASON}
\rwR{k9}{328.3}{(9.11)}{UNIDAD COORDINADORA DE DERECHOS HUMANOS JEFE(A)}{ULIANA LATORRE CAMPOS}
\stepcounter{rc}\node[k10] (kc\therc) at (753,346.3) {(10)};\node[rowt,text=rowb,font=\fontsize{3.45}{3.7}\selectfont\bfseries] (kt\therc) at (769,346.3) {DIRECCIONES REGIONALES};
\rwR{k10}{351.5}{(10.1)}{DIRECCIÓN REGIONAL TARAPACÁ DIRECTOR(A) REGIONAL}{ERIA MORENO CHAMORRO}
\rwR{k10}{356.8}{(10.2)}{DIRECCIÓN REGIONAL ANTOFAGASTA DIRECTOR(A) REGIONAL}{RICARDO BALZA GONZÁLEZ}
\rwR{k10}{362}{(10.3)}{DIRECCIÓN REGIONAL ATACAMA DIRECTOR(A) REGIONAL}{LUCY CECILIA CERDÓN RODRIGO}
\rwR{k10}{367.3}{(10.4)}{DIRECCIÓN REGIONAL COQUIMBO DIRECTOR(A) REGIONAL}{ALFREDO VILLAGRÁN TAPIA}
\rwR{k10}{372.5}{(10.5)}{DIRECCIÓN REGIONAL VALPARAÍSO DIRECTOR(A) REGIONAL}{OMAR HUMBERTO MORALES VÁSQUEZ}
\rwR{k10}{377.8}{(10.6)}{DIRECCIÓN REGIONAL LIBERTADOR BERNARDO O'HIGGINS DIRECTOR(A) REGIONAL}{PAULA JORIETTE MIDDLETON JORQUERA}
\rwR{k10}{383}{(10.7)}{DIRECCIÓN REGIONAL MAULE DIRECTOR(A) REGIONAL}{SONIA DEL PILAR GONZÁLEZ CONTRERAS}
\rwR{k10}{388.3}{(10.8)}{DIRECCIÓN REGIONAL ÑUBLE DIRECTOR(A) REGIONAL}{CARLOS SANTIAGO VILLANUEVA NÚÑEZ}
\rwR{k10}{393.5}{(10.9)}{DIRECCIÓN REGIONAL BIO-BIO DIRECTOR(A) REGIONAL}{LETICIA MARIA VERÓNICA HERRERA CARO}
\rwR{k10}{398.8}{(10.10)}{DIRECCIÓN REGIONAL ARAUCANÍA DIRECTOR(A) REGIONAL}{JUAN DIEGO RIS FUENTES VEGA}
\rwR{k10}{404}{(10.11)}{DIRECCIÓN REGIONAL LOS LAGOS DIRECTOR(A) REGIONAL}{RICHARD MILVAN MANRÍQUEZ INZUNZA}
\rwR{k10}{409.3}{(10.12)}{DIRECCIÓN REGIONAL AYSÉN DEL GENERAL CARLOS IBÁÑEZ DEL CAMPO DIRECTOR(A) REGIONAL}{RODRIGO HERNÁN AGUILERA SIAS}
\rwR{k10}{414.5}{(10.13)}{DIRECCIÓN REGIONAL MAGALLANES Y ANTÁRTICA CHILENA DIRECTOR(A) REGIONAL}{MAURICIO SERGIO PEÑA Y LILLO CORREA}
\rwR{k10}{419.8}{(10.14)}{DIRECCIÓN REGIONAL METROPOLITANA DIRECTOR(A) REGIONAL}{RUBÉN RIVAS GUTIÉRREZ}
\rwR{k10}{425}{(10.15)}{DIRECCIÓN REGIONAL LOS RÍOS DIRECTOR(A) REGIONAL}{DANIEL GONZALO CEBALLOS DEL PINO}
\rwR{k10}{430.3}{(10.16)}{DIRECCIÓN REGIONAL ARICA Y PARINACOTA DIRECTOR(A) REGIONAL}{WALTER RODRIGO MUÑOZ GODOY}
% ---------- logo
\fill[white] (870,505) rectangle (984.5,609);
\fill[bgblue] (871.5,506.8) rectangle (917,607.5);
\fill[cRed] (917,506.8) rectangle (982.8,607.5);
\node[anchor=base west,inner sep=0pt,text=white,font=\titlefont\bfseries\fontsize{8}{8}\selectfont] (l1) at (921.5,518) {Servicio de};
\node[anchor=base west,inner sep=0pt,text=white,font=\titlefont\bfseries\fontsize{8}{8}\selectfont] (l2) at (921.5,528) {Registro Civil e};
\node[anchor=base west,inner sep=0pt,text=white,font=\titlefont\bfseries\fontsize{8}{8}\selectfont] (l3) at (921.5,538) {Identificación};
\node[anchor=base west,inner sep=0pt,text=white,font=\titlefont\bfseries\fontsize{4.6}{5}\selectfont] (l4) at (921.5,545.7) {Ministerio de Justicia};
\node[anchor=base west,inner sep=0pt,text=white,font=\titlefont\bfseries\fontsize{4.6}{5}\selectfont] (l5) at (921.5,552.7) {y Derechos Humanos};
\node[anchor=base west,inner sep=0pt,text=white,font=\titlefont\bfseries\fontsize{6.4}{7}\selectfont] (l6) at (921.5,601.5) {Gobierno de Chile};
% coat of arms
\fill[white] (888,520) -- (900,520) -- (900,530) .. controls (900,533) and (896,534) .. (894,535) .. controls (892,534) and (888,533) .. (888,530) -- cycle;
\fill[bgblue] (890,522) rectangle (898,526);
\fill[white] (894,523) circle (1.2);
\fill[white] (886,527) .. controls (881,527) and (881,520) .. (882,516) -- (884,514) .. controls (885,516) and (887,519) .. (888,522) -- cycle;
\fill[white] (902,528) -- (906,527) -- (906,517) .. controls (905,515) and (904,515) .. (903,514) -- (901,520) -- cycle;
\fill[white] (906,517) -- (909,513) -- (908,518) -- (909,530) -- (907,530) -- cycle;
\fill[white] (889,520) .. controls (888,516) and (891,515) .. (890,513) -- (893,515.5) -- (894,512.5) -- (895,515.5) -- (898,513) .. controls (897,515) and (900,516) .. (899,520) -- cycle;
\fill[white] (877,534.5) .. controls (882,532) and (886,535) .. (894,535.5) .. controls (902,535) and (906,532) .. (912,534.5) -- (911,537) .. controls (905,535.5) and (902,538) .. (894,538) .. controls (886,538) and (883,535.5) .. (878,537) -- cycle;
% ---------- connectors
\begin{pgfonlayer}{bg}
\coordinate (bar) at (203,199.5);
\draw[conn] (dn.south) -- (bar);
\draw[conn] (dr.north) -- (dr.north |- bar) -- (ra.north |- bar) -- (ra.north);
\foreach \n in {so,sj,sa,se,sp}{\draw[conn] (\n.north) -- (\n.north |- bar);}
\foreach \n in {au,cm,pa,ge}{\draw[conn] (\n.west) -- (\n.west -| bar);}
\draw[conn] (gab.east) -- (gab.east -| bar);
\coordinate (x2) at (267,100);
\draw[conn] (x2) -- (x2 |- bar);
\coordinate (bk) at (135,131);
\draw[conn] (as.east) -| (bk) |- (st.east);
\draw[conn] (co.east) -- (gab.west);
\coordinate (bk2) at (279,173);
\draw[conn] (ge.east) -- (bk2);
\draw[conn] (ar1.west) -| (bk2) |- (ar2.west);
% regional dotted
\coordinate (dv) at (53,222);
\draw[draw=linew,line width=1pt,dash pattern=on 1pt off .9pt] (dr.east) -| (dv) |- (of.east);
% operaciones
\coordinate (t3) at (58.5,300);
\draw[conn] (so.west) -- (so.west -| t3) -- (gi.west -| t3) -- (gi.west);
\foreach \n in {dg,inf,ter}{\draw[conn] (\n.west) -- (\n.west -| t3);}
\draw[conn] (so.south) -- (dg.north);
\draw[conn] (dg.south) -- (ofi.north);
% juridica
\draw[conn] (sj.south) -- (j4.north);
% administracion
\coordinate (t4) at (155.5,400);
\draw[conn] (sa.west) -- (sa.west -| t4) -- (a5.west -| t4) -- (a5.west);
\foreach \n in {a2,a3,a4}{\draw[conn] (\n.west) -- (\n.west -| t4);}
\draw[conn] (sa.south) -- (a13.north);
\draw[conn] (a2.south) -- (a23.north);
\draw[conn] (a3.south) -- (a34.north);
\draw[conn] (a4.south) -- (a44.north);
% estudios
\coordinate (t5) at (209.5,320);
\draw[conn] (se.west) -- (se.west -| t5) -- (e10.west -| t5) -- (e10.west);
\foreach \n in {e1,e2,e3,e4,e5,e6,e7,e8,e9}{\draw[conn] (\n.west) -- (\n.west -| t5);}
% personas
\coordinate (t6) at (267,400);
\draw[conn] (sp.west) -- (sp.west -| t6) -- (p6.west -| t6) -- (p6.west);
\foreach \n in {p2,p3,p4,p5}{\draw[conn] (\n.west) -- (\n.west -| t6);}
\coordinate (t7) at (272.5,280);
\draw[conn] (p1.west) -- (p1.west -| t7) -- (p13.west -| t7) -- (p13.west);
\foreach \n in {p11,p12}{\draw[conn] (\n.west) -- (\n.west -| t7);}
\draw[conn] (sp.south) -- (p1.north);
\draw[conn] (p2.south) -- (p23.north);
\draw[conn] (p5.south) -- (p54.north);
\coordinate (bk3) at (317,272);
\draw[conn] (p11.east) -- (bk3);
\draw[conn] (g1.west) -| (bk3) |- (g2.west);
% archivo
\coordinate (t8) at (386.5,340);
\draw[conn] (ra.west) -- (ra.west -| t8) -- (r11.west -| t8) -- (r11.west);
\foreach \n in {r1,r2,r3,r4,r5,r6,r7,r8,r9,r10}{\draw[conn] (\n.west) -- (\n.west -| t8);}
\end{pgfonlayer}
\end{tikzpicture}
\end{document}
